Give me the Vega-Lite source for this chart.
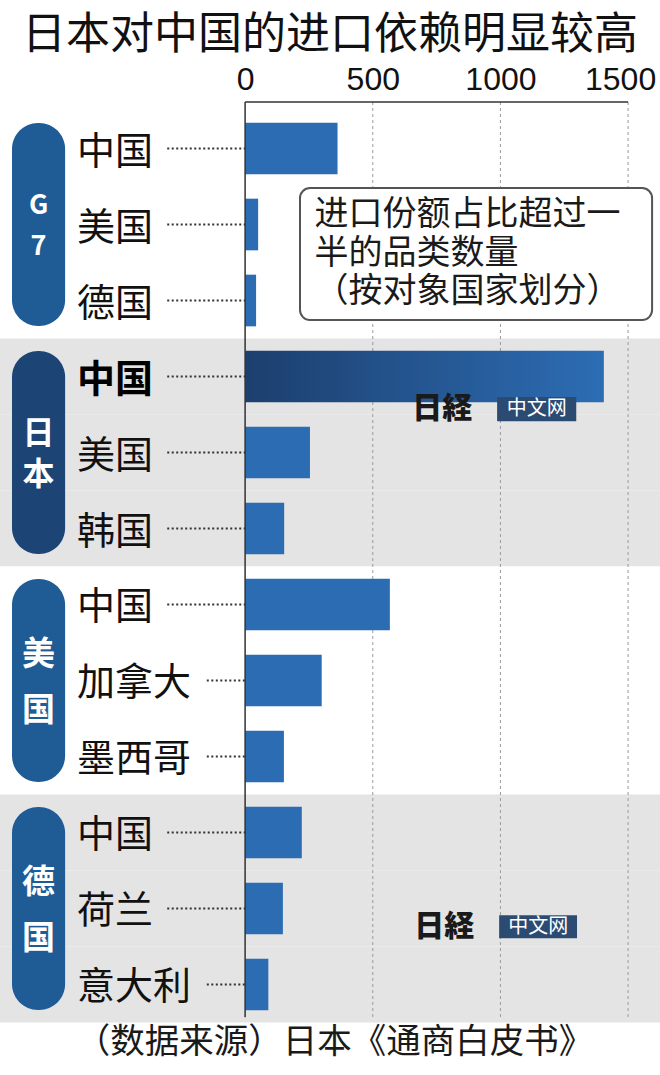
{
  "$schema": "https://vega.github.io/schema/vega-lite/v6.json",
  "description": "日本对中国的进口依赖明显较高",
  "width": 660,
  "height": 929,
  "autosize": {"type": "none"},
  "padding": {"left": 0, "right": 0, "top": 102, "bottom": 44},
  "background": "#ffffff",
  "title": {
    "text": "日本对中国的进口依赖明显较高",
    "fontSize": 44,
    "fontWeight": "normal",
    "color": "#111111",
    "anchor": "middle",
    "offset": 5,
    "font": "Noto Sans CJK SC"
  },
  "datasets": {
    "rows": [
      {"group": "G7", "country": "中国", "key": "G7|中国", "items": 362},
      {"group": "G7", "country": "美国", "key": "G7|美国", "items": 51},
      {"group": "G7", "country": "德国", "key": "G7|德国", "items": 43},
      {"group": "日本", "country": "中国", "key": "日本|中国", "items": 1405},
      {"group": "日本", "country": "美国", "key": "日本|美国", "items": 254},
      {"group": "日本", "country": "韩国", "key": "日本|韩国", "items": 153},
      {"group": "美国", "country": "中国", "key": "美国|中国", "items": 567},
      {"group": "美国", "country": "加拿大", "key": "美国|加拿大", "items": 300},
      {"group": "美国", "country": "墨西哥", "key": "美国|墨西哥", "items": 152},
      {"group": "德国", "country": "中国", "key": "德国|中国", "items": 222},
      {"group": "德国", "country": "荷兰", "key": "德国|荷兰", "items": 148},
      {"group": "德国", "country": "意大利", "key": "德国|意大利", "items": 91}
    ],
    "groups": [
      {"group": "G7", "tag": "G\n7"},
      {"group": "日本", "tag": "日\n本"},
      {"group": "美国", "tag": "美\n国"},
      {"group": "德国", "tag": "德\n国"}
    ],
    "ticks": [{"tick": 500}, {"tick": 1000}, {"tick": 1500}]
  },
  "resolve": {"scale": {"y": "independent"}},
  "layer": [
    {
      "data": {"name": "rows"},
      "mark": {"type": "rect", "strokeWidth": 0},
      "encoding": {
        "y": {
          "field": "key", "type": "nominal", "sort": null, "axis": null,
          "scale": {"domain": ["G7|中国", "G7|美国", "G7|德国", "日本|中国", "日本|美国", "日本|韩国", "美国|中国", "美国|加拿大", "美国|墨西哥", "德国|中国", "德国|荷兰", "德国|意大利"], "paddingInner": 0, "paddingOuter": 0.112}
        },
        "color": {
          "condition": {"test": "datum.group == '日本' || datum.group == '德国'", "value": "#e4e4e4"},
          "value": "#ffffff"
        }
      }
    },
    {
      "data": {"name": "ticks"},
      "mark": {"type": "rule", "color": "#9a9a9a", "strokeWidth": 1, "strokeDash": [3, 3]},
      "encoding": {
        "x": {
          "field": "tick", "type": "quantitative",
          "scale": {"domain": [-960, 1625], "nice": false, "zero": false},
          "axis": {
            "orient": "top", "values": [0, 500, 1000, 1500], "format": "d", "title": null,
            "domain": false, "ticks": false, "grid": false,
            "labelFont": "Liberation Sans", "labelFontSize": 32, "labelColor": "#111111",
            "labelOffset": {"condition": {"test": "datum.value == 1500", "value": -8}, "value": 0},
            "labelPadding": 6, "labelFlush": false, "labelOverlap": false, "labelBound": false
          }
        },
        "y": {"datum": -0.112, "type": "quantitative", "axis": null, "scale": {"domain": [-0.112, 12.112], "nice": false, "zero": false, "reverse": true}},
        "y2": {"datum": 11.93}
      }
    },
    {
      "data": {"name": "rows"},
      "encoding": {
        "y": {
          "field": "key", "type": "nominal", "sort": null, "axis": null,
          "scale": {"domain": ["G7|中国", "G7|美国", "G7|德国", "日本|中国", "日本|美国", "日本|韩国", "美国|中国", "美国|加拿大", "美国|墨西哥", "德国|中国", "德国|荷兰", "德国|意大利"], "paddingInner": 0, "paddingOuter": 0.112}
        }
      },
      "layer": [
        {
          "transform": [{"filter": "datum.key != '日本|中国'"}],
          "mark": {"type": "bar", "height": {"band": 0.68}, "color": "#2b6cb3"},
          "encoding": {
            "x": {
              "field": "items", "type": "quantitative",
              "scale": {"domain": [-960, 1625], "nice": false, "zero": false},
              "axis": {
                "orient": "top", "values": [0, 500, 1000, 1500], "format": "d", "title": null,
                "domain": false, "ticks": false, "grid": false,
                "labelFont": "Liberation Sans", "labelFontSize": 32, "labelColor": "#111111",
                "labelOffset": {"condition": {"test": "datum.value == 1500", "value": -8}, "value": 0},
                "labelPadding": 6, "labelFlush": false, "labelOverlap": false, "labelBound": false
              }
            }
          }
        },
        {
          "transform": [{"filter": "datum.key == '日本|中国'"}],
          "mark": {
            "type": "bar", "height": {"band": 0.68},
            "color": {"gradient": "linear", "x1": 0, "y1": 0, "x2": 1, "y2": 0,
              "stops": [{"offset": 0, "color": "#1c3f6e"}, {"offset": 1, "color": "#2d6db4"}]}
          },
          "encoding": {"x": {"field": "items", "type": "quantitative"}}
        },
        {
          "transform": [{"filter": "length(datum.country) == 2"}],
          "mark": {"type": "rule", "strokeDash": [2, 2.5], "strokeWidth": 2, "color": "#333333"},
          "encoding": {"x": {"datum": -305}, "x2": {"datum": 0}}
        },
        {
          "transform": [{"filter": "length(datum.country) == 3"}],
          "mark": {"type": "rule", "strokeDash": [2, 2.5], "strokeWidth": 2, "color": "#333333"},
          "encoding": {"x": {"datum": -150}, "x2": {"datum": 0}}
        },
        {
          "transform": [{"filter": "datum.key != '日本|中国'"}],
          "mark": {"type": "text", "align": "left", "baseline": "middle", "fontSize": 38, "dy": 4, "color": "#111111"},
          "encoding": {"x": {"datum": -658}, "text": {"field": "country"}}
        },
        {
          "transform": [{"filter": "datum.key == '日本|中国'"}],
          "mark": {"type": "text", "align": "left", "baseline": "middle", "fontSize": 38, "dy": 4, "fontWeight": "bold", "color": "#000000"},
          "encoding": {"x": {"datum": -658}, "text": {"field": "country"}}
        }
      ]
    },
    {
      "data": {"name": "groups"},
      "encoding": {
        "y": {
          "field": "group", "type": "nominal", "sort": null, "axis": null,
          "scale": {"domain": ["G7", "日本", "美国", "德国"], "paddingInner": 0, "paddingOuter": 0.0373}
        }
      },
      "layer": [
        {
          "mark": {"type": "bar", "height": {"band": 0.89}, "cornerRadius": 26},
          "encoding": {
            "x": {"datum": -913},
            "x2": {"datum": -705},
            "color": {"condition": {"test": "datum.group == '日本'", "value": "#1c4474"}, "value": "#1f5b94"}
          }
        },
        {
          "transform": [{"filter": "datum.group == 'G7' || datum.group == '日本'"}],
          "mark": {"type": "text", "lineBreak": "\n", "lineHeight": 41, "dy": -19, "fontWeight": "bold", "color": "#ffffff", "align": "center", "baseline": "middle"},
          "encoding": {
            "x": {"datum": -809},
            "text": {"field": "tag"},
            "size": {"condition": {"test": "datum.group == 'G7'", "value": 27}, "value": 32}
          }
        },
        {
          "transform": [{"filter": "datum.group == '美国' || datum.group == '德国'"}],
          "mark": {"type": "text", "lineBreak": "\n", "lineHeight": 56, "dy": -25, "fontWeight": "bold", "fontSize": 33, "color": "#ffffff", "align": "center", "baseline": "middle"},
          "encoding": {"x": {"datum": -809}, "text": {"field": "tag"}}
        }
      ]
    },
    {
      "data": {"values": [{}]},
      "encoding": {
        "y": {"datum": 0, "type": "quantitative", "axis": null, "scale": {"domain": [-0.112, 12.112], "nice": false, "zero": false, "reverse": true}}
      },
      "layer": [
        {
          "mark": {"type": "rule", "color": "#333333", "strokeWidth": 1.5},
          "encoding": {"x": {"datum": 0}, "x2": {"datum": 1500}, "y": {"datum": -0.112, "type": "quantitative"}}
        },
        {
          "mark": {"type": "rule", "color": "#333333", "strokeWidth": 1.5},
          "encoding": {"x": {"datum": 0}, "y": {"datum": -0.112, "type": "quantitative"}, "y2": {"datum": 11.93}}
        },
        {
          "mark": {"type": "rect", "fill": "#ffffff", "stroke": "#555555", "strokeWidth": 2, "cornerRadius": 10},
          "encoding": {"x": {"datum": 215}, "x2": {"datum": 1594}, "y": {"datum": 1.02, "type": "quantitative"}, "y2": {"datum": 2.757}}
        },
        {
          "mark": {"type": "text", "text": ["进口份额占比超过一", "半的品类数量", "（按对象国家划分）"], "align": "left", "baseline": "middle", "fontSize": 34, "lineHeight": 38.5, "color": "#1a1a1a"},
          "encoding": {"x": {"datum": 272}, "y": {"datum": 1.375, "type": "quantitative"}}
        },
        {
          "mark": {"type": "text", "text": "（数据来源）日本《通商白皮书》", "align": "center", "baseline": "middle", "fontSize": 34.5, "color": "#1a1a1a"},
          "encoding": {"x": {"datum": 350}, "y": {"datum": 12.27, "type": "quantitative"}}
        },
        {
          "mark": {"type": "text", "text": "日経", "align": "center", "baseline": "middle", "fontSize": 30, "fontWeight": 900, "font": "Noto Sans CJK JP", "color": "#1a1a1a"},
          "encoding": {"x": {"datum": 772}, "y": {"datum": 3.93, "type": "quantitative"}}
        },
        {
          "mark": {"type": "rect", "color": "#2c4b73"},
          "encoding": {"x": {"datum": 987}, "x2": {"datum": 1297}, "y": {"datum": 3.77, "type": "quantitative"}, "y2": {"datum": 4.09}}
        },
        {
          "mark": {"type": "text", "text": "中文网", "align": "center", "baseline": "middle", "fontSize": 20, "color": "#ffffff"},
          "encoding": {"x": {"datum": 1142}, "y": {"datum": 3.93, "type": "quantitative"}}
        },
        {
          "mark": {"type": "text", "text": "日経", "align": "center", "baseline": "middle", "fontSize": 30, "fontWeight": 900, "font": "Noto Sans CJK JP", "color": "#1a1a1a"},
          "encoding": {"x": {"datum": 780}, "y": {"datum": 10.74, "type": "quantitative"}}
        },
        {
          "mark": {"type": "rect", "color": "#2c4b73"},
          "encoding": {"x": {"datum": 995}, "x2": {"datum": 1300}, "y": {"datum": 10.59, "type": "quantitative"}, "y2": {"datum": 10.89}}
        },
        {
          "mark": {"type": "text", "text": "中文网", "align": "center", "baseline": "middle", "fontSize": 20, "color": "#ffffff"},
          "encoding": {"x": {"datum": 1148}, "y": {"datum": 10.74, "type": "quantitative"}}
        }
      ]
    }
  ],
  "config": {"font": "Noto Sans CJK SC", "view": {"stroke": null}}
}
